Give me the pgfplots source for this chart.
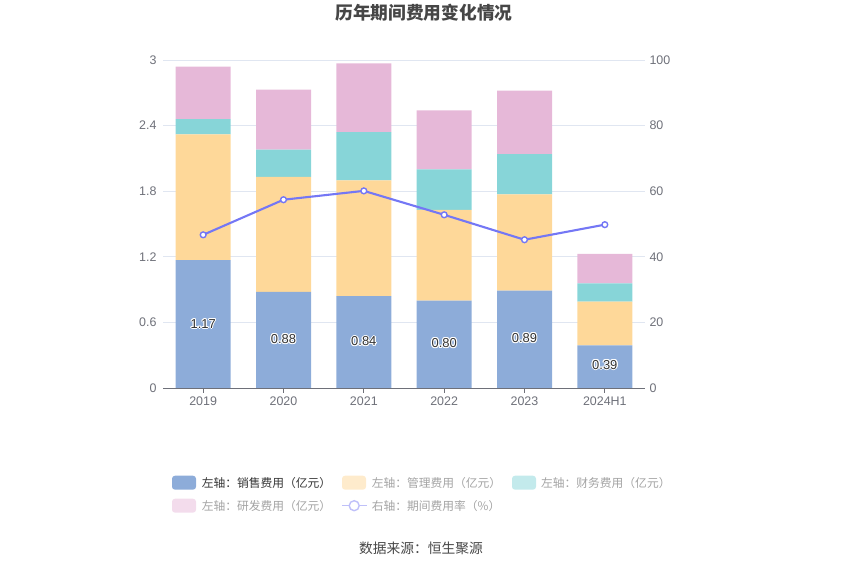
\documentclass[border=0pt]{standalone}
\usepackage{pgfplots}
\pgfplotsset{compat=1.18}
\usepackage{fontspec}
\setmainfont{Liberation Sans}
\newfontfamily\cjk{Noto Sans CJK SC}
\definecolor{cSales}{HTML}{8DACD9}
\definecolor{cMgmt}{HTML}{FED899}
\definecolor{cFin}{HTML}{87D5D8}
\definecolor{cRD}{HTML}{E6B8D8}
\definecolor{cLine}{HTML}{7477F5}
\definecolor{fMgmt}{HTML}{FEEBCC}
\definecolor{fFin}{HTML}{C3EAEC}
\definecolor{fRD}{HTML}{F3DCEC}
\definecolor{fLine}{HTML}{BFC0F9}
\definecolor{gridcol}{HTML}{E0E6F1}
\definecolor{axisgray}{HTML}{6E7079}
\definecolor{labgray}{HTML}{6E7079}
\definecolor{titlegray}{HTML}{464646}
\definecolor{lbltext}{HTML}{333333}
\definecolor{legdark}{HTML}{333333}
\definecolor{leglight}{HTML}{A3A3A3}
\newcommand\oc[3]{\rlap{\hspace*{#1}\raisebox{#2}{\color{white}#3}}}
\newcommand\lbl[1]{\leavevmode\oc{1.1pt}{0pt}{#1}\oc{-1.1pt}{0pt}{#1}\oc{0pt}{1.1pt}{#1}\oc{0pt}{-1.1pt}{#1}\oc{0.8pt}{0.8pt}{#1}\oc{-0.8pt}{0.8pt}{#1}\oc{0.8pt}{-0.8pt}{#1}\oc{-0.8pt}{-0.8pt}{#1}{\color{lbltext}#1}}
\begin{document}
\begin{tikzpicture}
\path[use as bounding box] (0bp,0bp) rectangle (850bp,575bp);
\begin{axis}[
  at={(163bp,187bp)}, anchor=south west, scale only axis,
  width=482bp, height=328bp,
  ybar stacked, bar width=55bp,
  xmin=-0.5, xmax=5.5, ymin=0, ymax=3,
  axis x line*=bottom, axis y line*=left,
  x axis line style={draw=axisgray, line width=0.8bp},
  y axis line style={draw=none},
  ytick={0,0.6,1.2,1.8,2.4,3},
  yticklabels={0,0.6,1.2,1.8,2.4,3},
  xtick={0,1,2,3,4,5},
  xticklabels={2019,2020,2021,2022,2023,2024H1},
  tick align=outside, major tick length=5bp,
  ytick style={draw=none},
  xtick style={draw=axisgray, line width=0.8bp},
  ymajorgrids, grid style={gridcol, line width=0.8bp},
  tick label style={font=\fontsize{12.5}{14}\selectfont, text=labgray},
  yticklabel style={xshift=2bp},
  clip=false,
]
\addplot[fill=cSales, draw=none] coordinates {(0,1.17) (1,0.88) (2,0.84) (3,0.80) (4,0.89) (5,0.39)};
\addplot[fill=cMgmt, draw=none] coordinates {(0,1.15) (1,1.05) (2,1.06) (3,0.83) (4,0.88) (5,0.40)};
\addplot[fill=cFin, draw=none] coordinates {(0,0.14) (1,0.25) (2,0.44) (3,0.37) (4,0.37) (5,0.167)};
\addplot[fill=cRD, draw=none] coordinates {(0,0.48) (1,0.55) (2,0.63) (3,0.54) (4,0.58) (5,0.27)};
\end{axis}
\begin{axis}[
  at={(163bp,187bp)}, anchor=south west, scale only axis,
  width=482bp, height=328bp,
  xmin=-0.5, xmax=5.5, ymin=0, ymax=100,
  axis x line=none, axis y line*=right,
  y axis line style={draw=none},
  ytick={0,20,40,60,80,100},
  yticklabels={0,20,40,60,80,100},
  ytick style={draw=none},
  tick label style={font=\fontsize{12.5}{14}\selectfont, text=labgray},
  yticklabel style={xshift=1bp},
  clip=false,
]
\addplot[draw=none, mark=none, point meta=explicit symbolic,
  nodes near coords={\lbl{\pgfplotspointmeta}},
  every node near coord/.style={anchor=center, font=\fontsize{13}{14}\selectfont}]
  coordinates {(0,19.6)[1.17] (1,14.9)[0.88] (2,14.2)[0.84] (3,13.7)[0.80] (4,15.2)[0.89] (5,7.1)[0.39]};
\addplot[color=cLine, line width=2.1bp, mark=*, mark size=2.9bp,
  mark options={fill=white, draw=cLine, line width=1.4bp}]
  coordinates {(0,46.7) (1,57.4) (2,60.1) (3,52.8) (4,45.2) (5,49.8)};
\end{axis}
\begin{scope}[x=1bp,y=1bp]
% title
\node[font=\cjk\bfseries\fontsize{17.8}{20}\selectfont, text=titlegray] at (424,562) {历年期间费用变化情况};
% legend
\begin{scope}[every node/.style={font=\cjk\fontsize{11.8}{13}\selectfont, anchor=west, inner sep=0pt}]
\fill[cSales, rounded corners=3bp] (172,85.3) rectangle (196,99.3);
\node[text=legdark] at (201.7,92.3) {左轴：销售费用（亿元）};
\fill[fMgmt, rounded corners=3bp] (342,85.3) rectangle (366,99.3);
\node[text=leglight] at (371.7,92.3) {左轴：管理费用（亿元）};
\fill[fFin, rounded corners=3bp] (512,85.3) rectangle (536,99.3);
\node[text=leglight] at (541,92.3) {左轴：财务费用（亿元）};
\fill[fRD, rounded corners=3bp] (172,62.3) rectangle (196,76.3);
\node[text=leglight] at (201.7,69.3) {左轴：研发费用（亿元）};
\draw[fLine, line width=1.6bp] (342,69.3) -- (366.5,69.3);
\draw[fLine, line width=1.4bp, fill=white] (354.2,69.3) circle (5bp);
\node[text=leglight] at (371.7,69.3) {右轴：期间费用率（\%）};
\end{scope}
\node[font=\cjk\fontsize{13.8}{15}\selectfont, text=titlegray] at (421,27) {数据来源：恒生聚源};
\end{scope}
\end{tikzpicture}
\end{document}
